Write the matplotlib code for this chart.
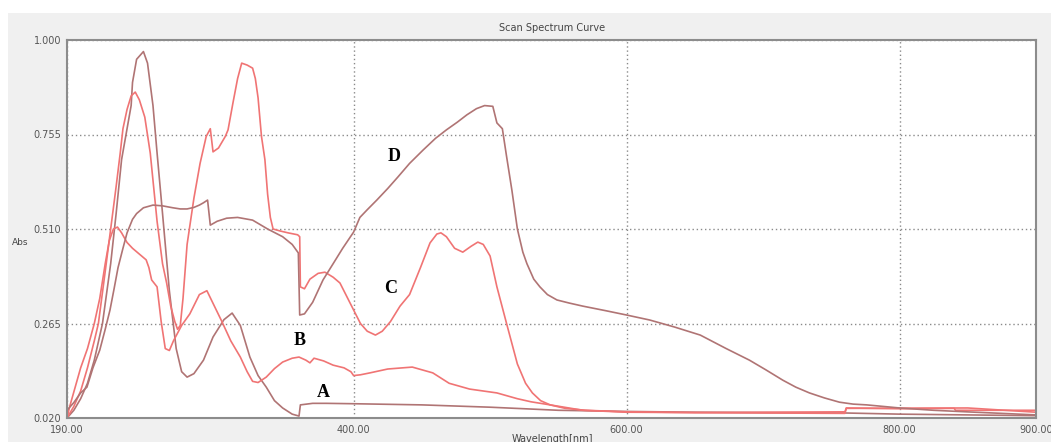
import matplotlib
matplotlib.use("Agg")
import matplotlib.pyplot as plt
from matplotlib.patches import Rectangle

# wavelength (nm) / absorbance pairs for each scanned sample
a_wl = [190, 195, 200, 205, 210, 216, 222, 226, 230, 234, 237, 238, 241, 246, 249, 253, 256, 260, 265, 270,
        274, 278, 283, 290, 297, 305, 311, 317, 324, 330, 336, 342, 348, 355, 360, 361, 370, 380, 400, 450,
        500, 550, 600, 650, 700, 760, 800, 850, 900]
a_abs = [0.02, 0.04, 0.07, 0.11, 0.17, 0.265, 0.42, 0.55, 0.69, 0.77, 0.83, 0.89, 0.95, 0.97, 0.94, 0.83, 0.707,
         0.55, 0.35, 0.20, 0.14, 0.126, 0.135, 0.17, 0.23, 0.275, 0.292, 0.26, 0.178, 0.13, 0.10, 0.065, 0.046,
         0.03, 0.025, 0.054, 0.058, 0.058, 0.057, 0.054, 0.048, 0.04, 0.037, 0.035, 0.034, 0.033, 0.03, 0.028,
         0.026]

b_wl = [190, 192, 196, 200, 205, 210, 214, 218, 221, 224, 227, 230, 234, 238, 243, 248, 250, 252, 256, 259,
        262, 265, 268, 274, 280, 287, 292.5, 298, 303.5, 310, 317, 322, 326, 330, 336, 342, 348, 355, 360, 365,
        368, 371, 378, 385, 393, 398, 400, 405, 412, 425, 443, 458, 470, 485, 505, 520, 530, 544, 568, 600,
        700, 760, 761, 850, 900]
b_abs = [0.02, 0.05, 0.10, 0.15, 0.20, 0.265, 0.33, 0.42, 0.48, 0.51, 0.515, 0.50, 0.475, 0.46, 0.445, 0.43,
         0.41, 0.378, 0.36, 0.27, 0.20, 0.195, 0.22, 0.26, 0.29, 0.34, 0.35, 0.31, 0.27, 0.22, 0.178, 0.14,
         0.115, 0.112, 0.126, 0.148, 0.165, 0.175, 0.178, 0.17, 0.163, 0.175, 0.168, 0.157, 0.15, 0.14, 0.13,
         0.132, 0.137, 0.147, 0.152, 0.137, 0.11, 0.095, 0.085, 0.07, 0.062, 0.054, 0.04, 0.035, 0.033, 0.032,
         0.045, 0.046, 0.035]

c_wl = [190, 195, 200, 205, 210, 213, 218, 222, 226, 229, 231, 234, 237, 240, 243, 247, 251, 256, 260, 263,
        266, 269, 271, 273, 275, 278, 283, 287.5, 292, 295, 297, 301, 306, 308, 311.6, 315, 318, 322, 326, 328,
        330, 332.5, 335, 337, 339, 341, 346, 352, 359, 360.5, 361, 364, 368, 374, 379, 385, 390, 395, 400, 405,
        410, 416, 421, 427, 434, 441, 449, 456, 461, 464, 468, 474, 480, 486, 491, 495, 500, 505, 512, 520,
        526, 531, 537, 544, 555, 570, 600, 650, 700, 760, 761, 800, 840, 841, 900]
c_abs = [0.02, 0.05, 0.09, 0.15, 0.22, 0.265, 0.40, 0.51, 0.62, 0.707, 0.77, 0.82, 0.855, 0.865, 0.845, 0.80,
         0.707, 0.53, 0.42, 0.37, 0.31, 0.27, 0.25, 0.26, 0.33, 0.47, 0.59, 0.68, 0.75, 0.77, 0.71, 0.72, 0.75,
         0.767, 0.837, 0.90, 0.94, 0.935, 0.927, 0.90, 0.85, 0.75, 0.69, 0.60, 0.54, 0.51, 0.505, 0.50, 0.495,
         0.49, 0.36, 0.355, 0.38, 0.395, 0.398, 0.385, 0.37, 0.335, 0.30, 0.265, 0.245, 0.235, 0.245, 0.27,
         0.31, 0.34, 0.41, 0.474, 0.497, 0.50, 0.49, 0.46, 0.45, 0.465, 0.476, 0.47, 0.44, 0.36, 0.266, 0.16,
         0.11, 0.085, 0.065, 0.054, 0.045, 0.04, 0.036, 0.034, 0.035, 0.036, 0.046, 0.044, 0.045, 0.04, 0.04]

d_wl = [190, 195, 200, 204.6, 209, 214, 218, 221.5, 224.5, 227.4, 231, 234, 238, 241, 246, 253, 260, 267.6,
        273, 278, 283, 287, 290, 293, 295, 300, 307, 315, 326, 337, 348, 355, 359.5, 360.5, 364, 370, 377.6,
        385, 392, 400, 404.6, 410, 417, 425, 432.5, 441, 451, 460, 468, 476, 483, 490, 496, 502, 505, 509,
        512, 516, 520, 524, 527, 532, 536.5, 542, 549, 558, 568, 585, 600, 617, 635, 654, 673, 690, 702,
        714.5, 724, 734, 745, 756, 766, 776, 788, 800, 825, 849, 875, 900]
d_abs = [0.04, 0.06, 0.085, 0.10, 0.15, 0.196, 0.25, 0.30, 0.355, 0.41, 0.46, 0.50, 0.535, 0.55, 0.565, 0.572,
         0.57, 0.565, 0.562, 0.562, 0.566, 0.572, 0.578, 0.585, 0.52, 0.53, 0.538, 0.54, 0.533, 0.51, 0.49,
         0.47, 0.448, 0.287, 0.29, 0.32, 0.378, 0.42, 0.46, 0.502, 0.54, 0.56, 0.585, 0.615, 0.645, 0.68,
         0.715, 0.745, 0.767, 0.787, 0.806, 0.822, 0.83, 0.828, 0.785, 0.77, 0.70, 0.61, 0.51, 0.45, 0.42,
         0.38, 0.36, 0.34, 0.326, 0.318, 0.31, 0.298, 0.287, 0.274, 0.256, 0.235, 0.20, 0.17, 0.145, 0.118,
         0.10, 0.085, 0.072, 0.061, 0.056, 0.054, 0.05, 0.046, 0.04, 0.036, 0.032, 0.028]

x_ticks = [190, 400, 600, 800, 900]
y_ticks = [0.020, 0.265, 0.510, 0.755, 1.000]

# label text and where it sits (nm, Abs)
labels = ["A", "B", "C", "D"]
label_pos = [(377.5, 0.085), (360.7, 0.22), (427, 0.357), (430, 0.697)]

pink = "#f07474"
brown = "#b07474"

fig = plt.figure(figsize=(10.51, 4.42), dpi=100)
# grey window panel behind the plot
fig.patches.append(Rectangle((8 / 1051, 0), 1, 1 - 13 / 442, transform=fig.transFigure,
                             facecolor="#f0f0f0", edgecolor="none", zorder=-5))

ax = fig.add_axes([67 / 1051, 1 - 418 / 442, 969 / 1051, 378 / 442])
ax.set_facecolor("white")

ax.plot(a_wl, a_abs, color=brown, lw=1.2)
ax.plot(b_wl, b_abs, color=pink, lw=1.2)
ax.plot(c_wl, c_abs, color=pink, lw=1.2)
ax.plot(d_wl, d_abs, color=brown, lw=1.2)

for lab, (x, y) in zip(labels, label_pos):
    ax.text(x, y, lab, family="Liberation Serif", fontweight="bold", fontsize=13,
            ha="center", va="center", color="black")

ax.set_xlim(190, 900)
ax.set_ylim(0.02, 1.0)
ax.set_xticks(x_ticks)
ax.set_xticklabels(["%.2f" % v for v in x_ticks])
ax.set_yticks(y_ticks)
ax.set_yticklabels(["%.3f" % v for v in y_ticks])
ax.tick_params(length=0, labelsize=7, labelcolor="#555555")
ax.tick_params(axis="y", pad=4)
ax.tick_params(axis="x", pad=5)
ax.grid(True, color="#8a8a8a", linestyle=(0, (1, 2)), lw=1.0)

for s in ax.spines.values():
    s.set_color("#8c8c8c")
    s.set_linewidth(1.5)

fig.text(552 / 1051, 1 - 28 / 442, "Scan Spectrum Curve", fontsize=7, color="#444444",
         ha="center", va="center")
fig.text(20 / 1051, 1 - 242 / 442, "Abs", fontsize=6.5, color="#444444", ha="center", va="center")
fig.text(552 / 1051, 1 - 439 / 442, "Wavelength[nm]", fontsize=7, color="#444444",
         ha="center", va="center")

fig.savefig("out.png", dpi=100)
